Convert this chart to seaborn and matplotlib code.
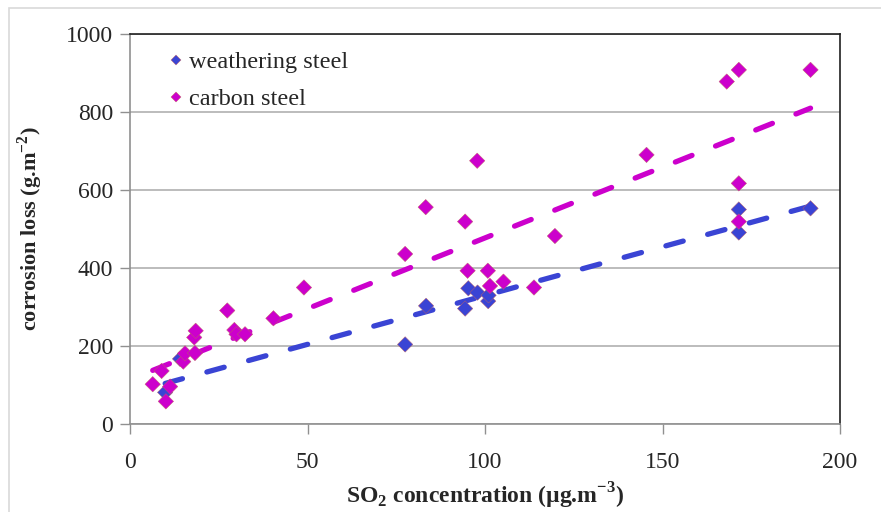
import numpy as np
import pandas as pd
import matplotlib
matplotlib.use("Agg")
import matplotlib.pyplot as plt
from matplotlib.patches import Rectangle
import seaborn as sns

# values
ws_x = [9.9, 14.1, 77.5, 83.4, 94.4, 95.3, 97.9, 100.9, 101.0, 171.5, 171.5, 191.7]
ws_y = [81, 167, 204, 303, 296, 348, 337, 315, 330, 550, 491, 553]

cs_x = [6.4, 8.9, 10.1, 11.3, 15.0, 15.5, 18.3, 18.1, 18.5, 27.4, 29.4, 30.0, 32.4,
        40.4, 49.0, 77.5, 83.3, 94.4, 95.1, 97.8, 100.8, 101.4, 105.2, 113.8, 119.7,
        145.5, 168.1, 171.5, 171.5, 171.5, 191.7]
cs_y = [102, 136, 58, 96, 160, 181, 182, 222, 239, 291, 241, 230, 230,
        271, 350, 436, 556, 519, 393, 675, 393, 354, 365, 350, 482,
        690, 878, 908, 617, 519, 908]

labels = ["weathering steel", "carbon steel"]
colors = ["#3a44d4", "#cc00cc"]

df = pd.concat([
    pd.DataFrame({"so2": ws_x, "loss": ws_y, "steel": labels[0]}),
    pd.DataFrame({"so2": cs_x, "loss": cs_y, "steel": labels[1]}),
])

sns.set_style("white")
plt.rcParams["font.family"] = ["Liberation Serif", "DejaVu Serif"]
plt.rcParams["mathtext.fontset"] = "custom"
plt.rcParams["mathtext.rm"] = "Liberation Serif:bold"
plt.rcParams["mathtext.bf"] = "Liberation Serif:bold"

fig = plt.figure(figsize=(8.81, 5.12), dpi=100)
ax = fig.add_axes([130 / 881, 88 / 512, 710 / 881, 390 / 512])

# outer frame of the original figure
fig.add_artist(Rectangle((9 / 881, -0.1), 1.2, (504 / 512) + 0.1, transform=fig.transFigure,
                         fill=False, edgecolor="#d9d9d9", linewidth=1.2, zorder=0))

ax.yaxis.grid(True, color="#b0b0b0", linewidth=1.2)
ax.set_axisbelow(True)

for lab, col in zip(labels, colors):
    sub = df[df["steel"] == lab]
    sns.regplot(data=sub, x="so2", y="loss", ax=ax, scatter=False, ci=None,
                line_kws=dict(color=col, linewidth=3.8, linestyle=(0, (3.4, 4.8)),
                              dash_capstyle="round"))

sns.scatterplot(data=df, x="so2", y="loss", hue="steel", palette=colors,
                marker="D", s=62, edgecolor="#c06060", linewidth=0.3, ax=ax, zorder=3)

ax.set_xlim(0, 200)
ax.set_ylim(0, 1000)
ax.set_xticks([0, 50, 100, 150, 200])
ax.set_yticks([0, 200, 400, 600, 800, 1000])
ax.tick_params(axis="both", labelsize=17, length=7, width=1, color="#909090",
               direction="out", bottom=True, left=True, pad=5)
ax.tick_params(axis="x", pad=13)

for side in ["top", "right"]:
    ax.spines[side].set_color("#202020")
    ax.spines[side].set_linewidth(1.2)
for side in ["left", "bottom"]:
    ax.spines[side].set_color("#909090")
    ax.spines[side].set_linewidth(1.2)

ax.set_xlabel("SO$_2$ concentration (\u00b5g.m$^{-3}$)", fontsize=17, fontweight="bold", labelpad=6)
ax.set_ylabel("corrosion loss (g.m$^{-2}$)", fontsize=16, fontweight="bold", labelpad=15)

leg = ax.legend(loc="upper left", bbox_to_anchor=(0.02, 1.012), frameon=False,
                fontsize=17.5, handlelength=0.8, handletextpad=0.15,
                labelspacing=0.62, markerscale=0.7)
leg.set_title(None)

fig.savefig("out.png", dpi=100)
